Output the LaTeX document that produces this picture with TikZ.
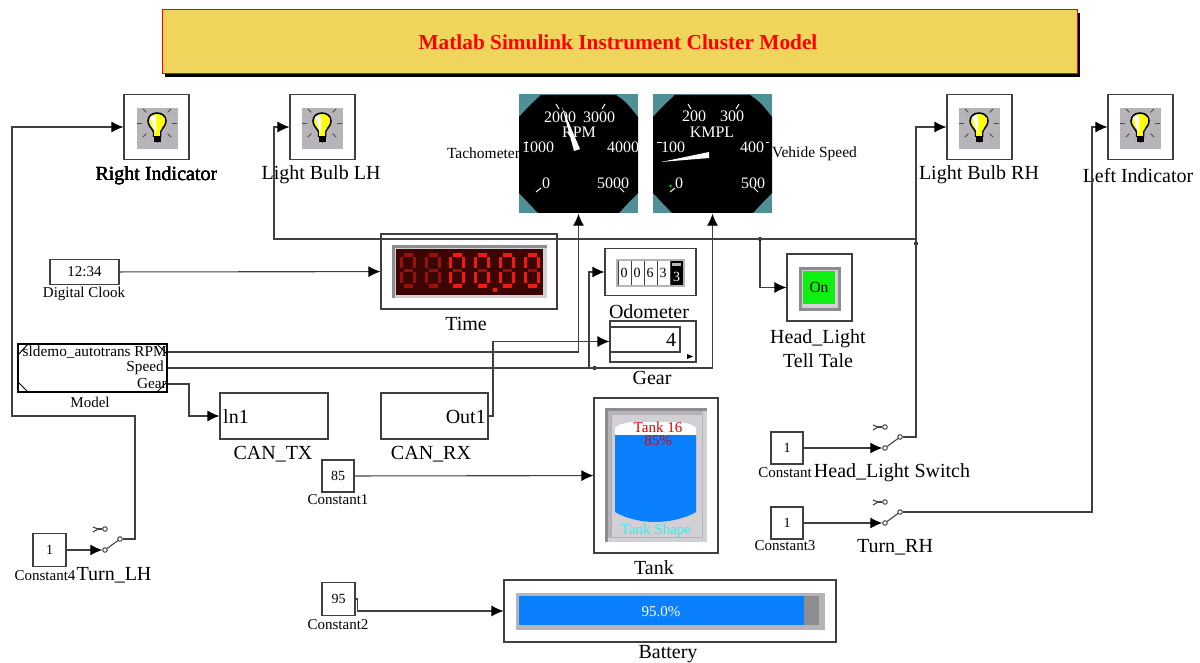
\documentclass[tikz,border=0pt]{standalone}
\usepackage{fontspec}
\setmainfont{Liberation Serif}
\usetikzlibrary{arrows.meta,calc}
\definecolor{wirecol}{HTML}{404040}
\definecolor{titlegold}{HTML}{EFD55B}
\definecolor{gaugeteal}{HTML}{4F8F96}
\definecolor{panelgray}{HTML}{B6B3B9}
\definecolor{paneldark}{HTML}{8E8C90}
\definecolor{panellight}{HTML}{D2D0D4}
\definecolor{tankblue}{HTML}{0A80FF}
\definecolor{tankcyan}{HTML}{30F0F0}
\definecolor{bulbyellow}{HTML}{FFFF00}
\definecolor{lampgreen}{HTML}{10F010}
\definecolor{segbright}{HTML}{F01A12}
\definecolor{segdim}{HTML}{96100C}
\definecolor{segback}{HTML}{3C0403}
\tikzstyle{block} = [draw=wirecol,line width=1.1pt,inner sep=0pt]
\tikzstyle{caption} = [inner sep=0pt,font=\fontsize{20}{24}\selectfont,align=center]
\tikzstyle{small} = [inner sep=0pt,font=\fontsize{15}{17}\selectfont]
\tikzstyle{value} = [inner sep=0pt,font=\fontsize{14}{16}\selectfont]
\tikzstyle{dial} = [inner sep=0pt,text=white,font=\fontsize{16}{18}\selectfont]
\tikzstyle{wire} = [draw=wirecol,line width=1.1pt]
\tikzstyle{signal} = [wire,arrows={-Latex[black,length=12pt,width=11pt]}]
\tikzstyle{junction} = [circle,fill=black,minimum size=4pt,inner sep=0pt]
\tikzstyle{contact} = [circle,draw=wirecol,fill=white,line width=1pt,minimum size=4.5pt,inner sep=0pt]

% lamp icon, #1 = centre
\newcommand{\bulbicon}[1]{
  \begin{scope}[shift={#1}]
    \fill[panelgray] (-21,-21) rectangle (21,21);
    \draw[white,line width=.6pt] (-21,21) -- (-21,-21) -- (21,-21);
    \foreach \a in {0,45,90,135,180,-45,-135}
      \draw[black!70,line width=.8pt] ({\a}:15) ++(0,-5) -- ++({\a}:5);
    \fill[bulbyellow] (0,-6) circle (8);
    \draw[black,line width=1.5pt] (-3.5,9) -- (-3.5,4) .. controls (-5,0) and (-9,-2) .. (-9,-7)
      .. controls (-9,-12) and (-5,-15) .. (0,-15) .. controls (5,-15) and (9,-12) .. (9,-7)
      .. controls (9,-2) and (5,0) .. (3.5,4) -- (3.5,9);
    \fill[bulbyellow] (-3,-1) rectangle (3,8);
    \fill[black] (-3.5,8) rectangle (3.5,14);
    \fill[white] (-7,-11) -- (0,-13) -- (-1,5) -- (-3,1) -- cycle;
    \fill[bulbyellow] (-1,-13) -- (8,-10) -- (4,2) -- (0,5) -- cycle;
  \end{scope}
}
% seven segment digit, #1 = centre x, #2 = colour of the outer segments, #3 = colour of the middle one
\newcommand{\segdigit}[3]{
  \begin{scope}[shift={(#1,270.5)},line width=3.4pt]
    \draw[#2] (-4.5,-15.5) -- (4.5,-15.5);
    \draw[#2] (-4.5,15.5) -- (4.5,15.5);
    \draw[#2] (-6.5,-13) -- (-6.5,-2);
    \draw[#2] (6.5,-13) -- (6.5,-2);
    \draw[#2] (-6.5,2) -- (-6.5,13);
    \draw[#2] (6.5,2) -- (6.5,13);
    \draw[#3] (-4.5,0) -- (4.5,0);
  \end{scope}
}
% hand switch, #1 = lower contact, #2 = name
\newcommand{\handswitch}[2]{
  \node (#2a)[contact] at #1 {};
  \node (#2b)[contact] at ($#1+(15,-11)$) {};
  \node (#2c)[contact] at ($#1+(0,-21)$) {};
  \draw[wire] (#2a) -- (#2b);
  \draw[wire] ($#1+(-12,-23)$) -- ($#1+(-7,-21)$) -- ($#1+(-12,-18)$);
  \draw[wire] ($#1+(-7,-21)$) -- (#2c);
}

\begin{document}
\begin{tikzpicture}[x=1pt,y=-1pt]
  \useasboundingbox (0,0) rectangle (1200,663);

  % lamps
  \node (rightind)[block,minimum size=65pt] at (156.5,127) {};
  \node (bulblh)[block,minimum size=65pt] at (322.5,127) {};
  \node (bulbrh)[block,minimum size=65pt] at (979.5,127) {};
  \node (leftind)[block,minimum size=65pt] at (1140.5,127) {};
  \foreach \cx in {157,322,979,1140}
    \bulbicon{(\cx,128)}
  \node (rightindlab)[caption] at (156.4,175.6) {Right Indicator};
  \node (bulblhlab)[caption] at (321,175) {Light Bulb LH};
  \node (bulbrhlab)[caption] at (979,175) {Light Bulb RH};
  \node (leftindlab)[caption] at (1138,176) {Left Indicator};

  % gauges
  \node (tacho)[fill=gaugeteal,minimum size=119pt,inner sep=0pt] at (578.5,154) {};
  \node (speedo)[fill=gaugeteal,minimum size=119pt,inner sep=0pt] at (712.5,154) {};
  \foreach \gx in {519,653}
    \fill[black] (\gx+22,95) -- (\gx+97,95) .. controls (\gx+107,102) .. (\gx+119,117) -- (\gx+119,193) .. controls (\gx+110,202) .. (\gx+100,213) -- (\gx+19,213) .. controls (\gx+10,203) .. (\gx,193) -- (\gx,117) .. controls (\gx+10,106) .. cycle;
  \foreach \tx/\ty/\tt in {560/117/2000,599/117/3000,579/132/RPM,538/147/1000,623/147/4000,546/183/0,613/183/5000,694/116/200,732/116/300,712/132/KMPL,673/147/100,752/147/400,679/183/0,753/183/500}
    \node[dial] at (\tx,\ty) {\tt};
  \foreach \ax/\ay/\bx/\by in {536/192/541/188,620/188/624/192,556/104/559/109,605/104/602/109,524/143/528/143,670/192/675/188,754/188/758/192,688/104/691/109,739/104/736/109,657/143/662/143,766/143/769/143}
    \draw[white,line width=1pt] (\ax,\ay) -- (\bx,\by);
  \fill[white] (562,107) -- (574,151) -- (580,149) -- cycle;
  \fill[white] (661,162) -- (709,158) -- (709,152) -- cycle;
  \fill[green!70!black] (670.5,186) circle (1.6);
  \node (tacholab)[inner sep=0pt,font=\fontsize{15.5}{17}\selectfont] at (483.5,153) {Tachometer};
  \node (speedolab)[inner sep=0pt,font=\fontsize{15.5}{17}\selectfont] at (814.5,154) {Vehide Speed};

  % clock and time display
  \node (clock)[block,minimum width=69pt,minimum height=25pt,font=\fontsize{15}{17}\selectfont] at (84.5,272) {12:34};
  \node (clocklab)[small] at (84,294) {Digital Clook};
  \node (time)[block,minimum width=176pt,minimum height=75pt] at (469,271.5) {};
  \fill[panellight] (392,245) rectangle (547,298);
  \fill[paneldark] (392,245) rectangle (547,248);
  \fill[paneldark] (392,245) rectangle (395,298);
  \fill[segback] (396,249) rectangle (543,295);
  \foreach \dx in {408,433}
    \segdigit{\dx}{segdim}{segdim}
  \foreach \dx in {457,482,507,532}
    \segdigit{\dx}{segbright}{segdim}
  \fill[segbright] (493,288) rectangle (497,292);
  \node (timelab)[caption] at (466,324) {Time};

  % odometer
  \node (odo)[block,minimum width=91pt,minimum height=47pt] at (650.5,272) {};
  \fill[panelgray] (616,259) rectangle (685,287);
  \fill[white] (618,261) rectangle (670,285);
  \fill[black] (670,261) rectangle (683,285);
  \foreach \cx/\cd in {624/0,637/0,650/6,663/3}
    \node[value] at (\cx,273) {\cd};
  \foreach \lx in {618,631,644,657,670}
    \draw[wirecol,line width=.6pt] (\lx,261) -- (\lx,285);
  \node[value,text=white] at (676.5,277) {3};
  \fill[panelgray] (672,263) rectangle (681,266);
  \node (odolab)[caption] at (649,312) {Odometer};

  % gear display
  \node (gear)[block,minimum width=86pt,minimum height=41pt] at (653,341.5) {};
  \node (gearin)[block,minimum width=70pt,minimum height=25pt,fill=white,font=\fontsize{20}{22}\selectfont,text width=62pt,align=right] at (645,339.5) {4};
  \fill[black] (687,354) -- (693,356.5) -- (687,359) -- cycle;
  \node (gearlab)[caption] at (652,378) {Gear};

  % head light lamp
  \node (headlamp)[block,minimum width=65pt,minimum height=67pt] at (819.5,287.5) {};
  \fill[panellight] (799,267) rectangle (841,311);
  \fill[paneldark] (799,267) rectangle (841,270);
  \fill[paneldark] (799,267) rectangle (802,311);
  \fill[paneldark] (799,308) rectangle (841,311);
  \fill[paneldark] (838,267) rectangle (841,311);
  \node (headon)[fill=lampgreen,minimum width=32pt,minimum height=33pt,inner sep=0pt,font=\fontsize{15.5}{17}\selectfont] at (819,287.5) {On};
  \node (headlab)[caption] at (818,349) {Head\_Light\\Tell Tale};

  % model
  \node (model)[draw=black,line width=1.6pt,minimum width=149pt,minimum height=48pt,inner sep=0pt] at (92.5,368) {};
  \foreach \ax/\ay/\bx/\by in {18/355/28/344,18/382/28/392,157/344/167/354,157/392/167/382}
    \draw[black,line width=1pt] (\ax,\ay) -- (\bx,\by);
  \node (modelrpm)[inner sep=0pt,anchor=east,font=\fontsize{15.3}{17}\selectfont] at (167,352) {sldemo\_autotrans RPM};
  \node (modelspeed)[inner sep=0pt,anchor=east,font=\fontsize{15.3}{17}\selectfont] at (164,368) {Speed};
  \node (modelgear)[inner sep=0pt,anchor=east,font=\fontsize{15.3}{17}\selectfont] at (167,384) {Gear};
  \node (modellab)[small] at (90,402) {Model};

  % CAN blocks
  \node (cantx)[block,minimum width=108pt,minimum height=46pt] at (274,416) {};
  \node (cantxin)[inner sep=0pt,anchor=west,font=\fontsize{20}{22}\selectfont] at (223,417) {ln1};
  \node (cantxlab)[caption] at (273,454) {CAN\_TX};
  \node (canrx)[block,minimum width=107pt,minimum height=46pt] at (434.5,416) {};
  \node (canrxout)[inner sep=0pt,anchor=east,font=\fontsize{20}{22}\selectfont] at (486,417) {Out1};
  \node (canrxlab)[caption] at (431,454) {CAN\_RX};

  % constants
  \node (const1)[block,minimum size=32pt,font=\fontsize{14}{16}\selectfont] at (338,476) {85};
  \node (const1lab)[small] at (338,500) {Constant1};
  \node (const2)[block,minimum size=33pt,font=\fontsize{14}{16}\selectfont] at (338.5,599) {95};
  \node (const2lab)[small] at (338,625) {Constant2};
  \node (const4)[block,minimum size=33pt,font=\fontsize{14}{16}\selectfont] at (49.5,550) {1};
  \node (const4lab)[small] at (45,576) {Constant4};
  \node (const0)[block,minimum size=32pt,font=\fontsize{14}{16}\selectfont] at (787,448) {1};
  \node (const0lab)[small] at (785,473) {Constant};
  \node (const3)[block,minimum size=32pt,font=\fontsize{14}{16}\selectfont] at (787,523) {1};
  \node (const3lab)[small] at (785,546) {Constant3};

  % switches
  \handswitch{(885,448)}{swhead}
  \handswitch{(885,523)}{swrh}
  \handswitch{(105,550)}{swlh}
  \node (swlhlab)[caption] at (114,575) {Turn\_LH};
  \node (swheadlab)[caption] at (892,473) {Head\_Light Switch};
  \node (swrhlab)[caption] at (895,547) {Turn\_RH};

  % tank
  \node (tank)[block,minimum width=124pt,minimum height=155pt] at (656,475.5) {};
  \fill[panellight] (605,408) rectangle (707,542);
  \fill[paneldark] (605,408) rectangle (707,411);
  \fill[paneldark] (605,408) rectangle (608,542);
  \fill[panelgray] (608,411) rectangle (703,538);
  \fill[paneldark!70] (611,414) rectangle (700,535);
  \fill[panellight] (612,415) rectangle (702,537);
  \fill[white] (615,435) -- (615,428) .. controls (618,424) and (625,423) .. (632,422) -- (679,422) .. controls (686,423) and (693,424) .. (696,428) -- (696,435) -- cycle;
  \fill[tankblue] (615,435) -- (615,512) .. controls (625,518) and (640,522) .. (655,522) .. controls (670,522) and (686,518) .. (696,512) -- (696,435) -- cycle;
  \node (tanktext)[inner sep=0pt,text=red!85!black,font=\fontsize{15}{17}\selectfont] at (658,427) {Tank 16};
  \node (tankpct)[inner sep=0pt,text=red!85!black,font=\fontsize{15}{17}\selectfont] at (658,441) {85\%};
  \node (tankshape)[inner sep=0pt,text=tankcyan,font=\fontsize{15}{17}\selectfont] at (656,531) {Tank Shape};
  \node (tanklab)[caption] at (654,568) {Tank};

  % battery
  \node (battery)[block,minimum width=332pt,minimum height=62pt] at (670,611) {};
  \fill[panelgray] (516,593) rectangle (825,630);
  \fill[paneldark] (804,596) rectangle (819,625);
  \fill[tankblue] (519,596) rectangle (804,625);
  \node (batterypct)[inner sep=0pt,text=white,font=\fontsize{15}{17}\selectfont] at (661,612) {95.0\%};
  \node (batterylab)[caption] at (668,654) {Battery};

  % junctions
  \coordinate (busend) at (916,239);
  \coordinate (rhcorner) at (916,127);
  \coordinate (odotap) at (589,368);
  \node (busdot)[junction] at (760,239) {};
  \node (headdot)[junction] at (916,243.5) {};
  \node (speeddot)[junction] at (594.5,368) {};

  % connectors
  \draw[signal] (clock) -- (time);
  \draw[signal] (const1) -- (tank);
  \draw[signal] (const2.east) -- ++(2,0) |- (battery);
  \draw[signal] (const4) -- (swlha);
  \draw[signal] (const0) -- (swheada);
  \draw[signal] (const3) -- (swrha);
  \draw[signal] (swlhb) -- (135,539) |- (12,416) |- (rightind);
  \draw[signal] (swheadb) -| (rhcorner) -- (bulbrh);
  \draw[signal] (swrhb) -| (1092,127) -- (leftind);
  \draw[signal] (busend) -| (274,127) -- (bulblh);
  \draw[signal] (busdot) |- (headlamp);
  \draw[signal] (model.east |- modelrpm) -| (tacho);
  \draw[signal] (model.east |- modelspeed) -| (speedo);
  \draw[signal] (odotap) |- (odo);
  \draw[signal] (model.east |- modelgear) -- (189,384) |- (cantx);
  \draw[signal] (canrx.east) -- (493,416) |- (gear);

  % title
  \fill[black] (165,13) rectangle (1080,77);
  \node (title)[draw=red,fill=titlegold,line width=1pt,inner sep=0pt,minimum width=915pt,minimum height=64pt,text=red,font=\fontsize{21.3}{23}\selectfont\bfseries] at (619.5,42) {\hspace*{-3pt}Matlab Simulink Instrument Cluster Model};
\end{tikzpicture}
\end{document}
